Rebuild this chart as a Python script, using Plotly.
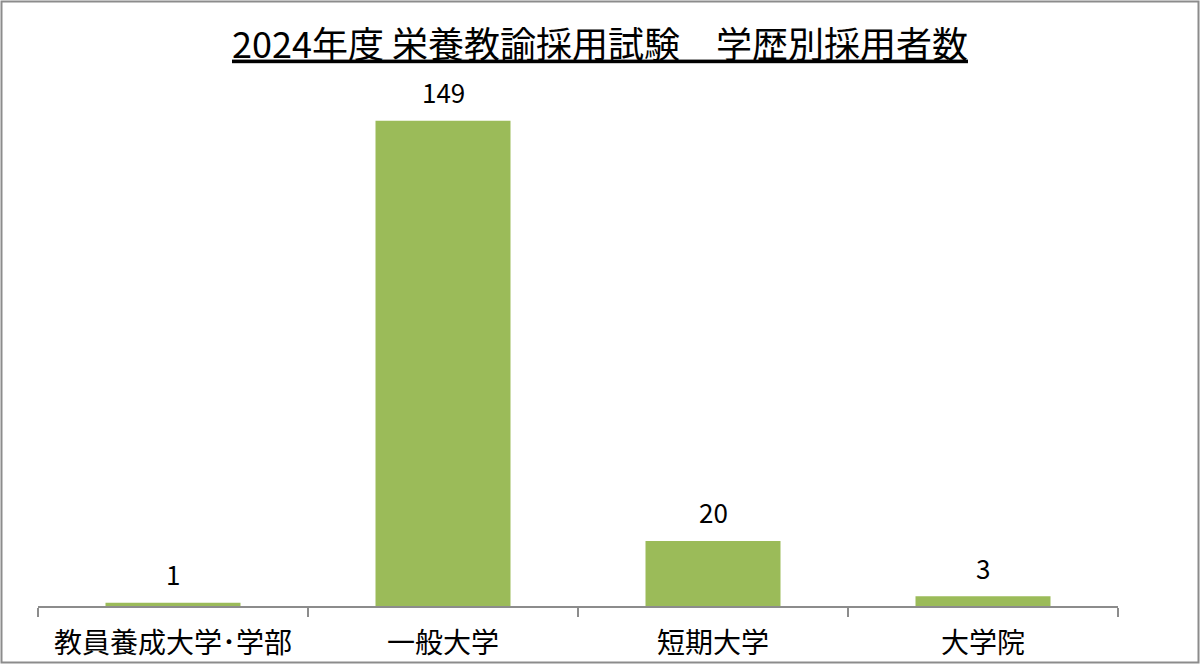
import plotly.graph_objects as go

# 学歴別採用者数
categories = ['教員養成大学･学部', '一般大学', '短期大学', '大学院']
counts = [1, 149, 20, 3]

title_text = '2024年度 栄養教諭採用試験　学歴別採用者数'
bar_color = '#9BBB59'
font_family = 'Noto Sans CJK JP'

W, H = 1200, 664
margin = dict(l=38, r=82, t=85, b=58)
plot_w = W - margin['l'] - margin['r']
plot_h = H - margin['t'] - margin['b']

fig = go.Figure()

fig.add_trace(
    go.Bar(x=categories,
           y=counts,
           width=0.5,
           marker=dict(color=bar_color, line=dict(width=0)),
           hoverinfo='x+y'))

# data labels above each bar
for cat, val in zip(categories, counts):
    fig.add_annotation(x=cat, y=val, text=str(val), showarrow=False,
                       yshift=29, font=dict(size=26, color='black'))

# outer border of the chart area
fig.add_shape(type='rect', xref='paper', yref='paper',
              x0=-(margin['l'] - 1.5) / plot_w,
              x1=1 + (margin['r'] - 1.5) / plot_w,
              y0=-(margin['b'] - 1.5) / plot_h,
              y1=1 + (margin['t'] - 1.5) / plot_h,
              line=dict(color='#8c8c8c', width=2))

fig.update_layout(
    width=W,
    height=H,
    margin=margin,
    paper_bgcolor='white',
    plot_bgcolor='white',
    showlegend=False,
    font=dict(family=font_family, color='black'),
    title=dict(text='<u>' + title_text + '</u>',
               x=0.5, xref='container', xanchor='center',
               y=1 - 45 / H, yanchor='middle',
               font=dict(size=36, color='black')),
    xaxis=dict(showline=True, linecolor='#8c8c8c', linewidth=1.5,
               ticks='outside', tickson='boundaries', ticklen=9,
               tickcolor='#8c8c8c', tickwidth=1.5,
               ticklabelstandoff=12, automargin=False,
               tickfont=dict(size=28, color='black'),
               showgrid=False, zeroline=False),
    yaxis=dict(range=[0, 160], visible=False, showgrid=False,
               zeroline=False),
    bargap=0.5,
)

fig.write_html("out.html", config={'displayModeBar': False},
               post_script="document.body.style.margin='0';")
